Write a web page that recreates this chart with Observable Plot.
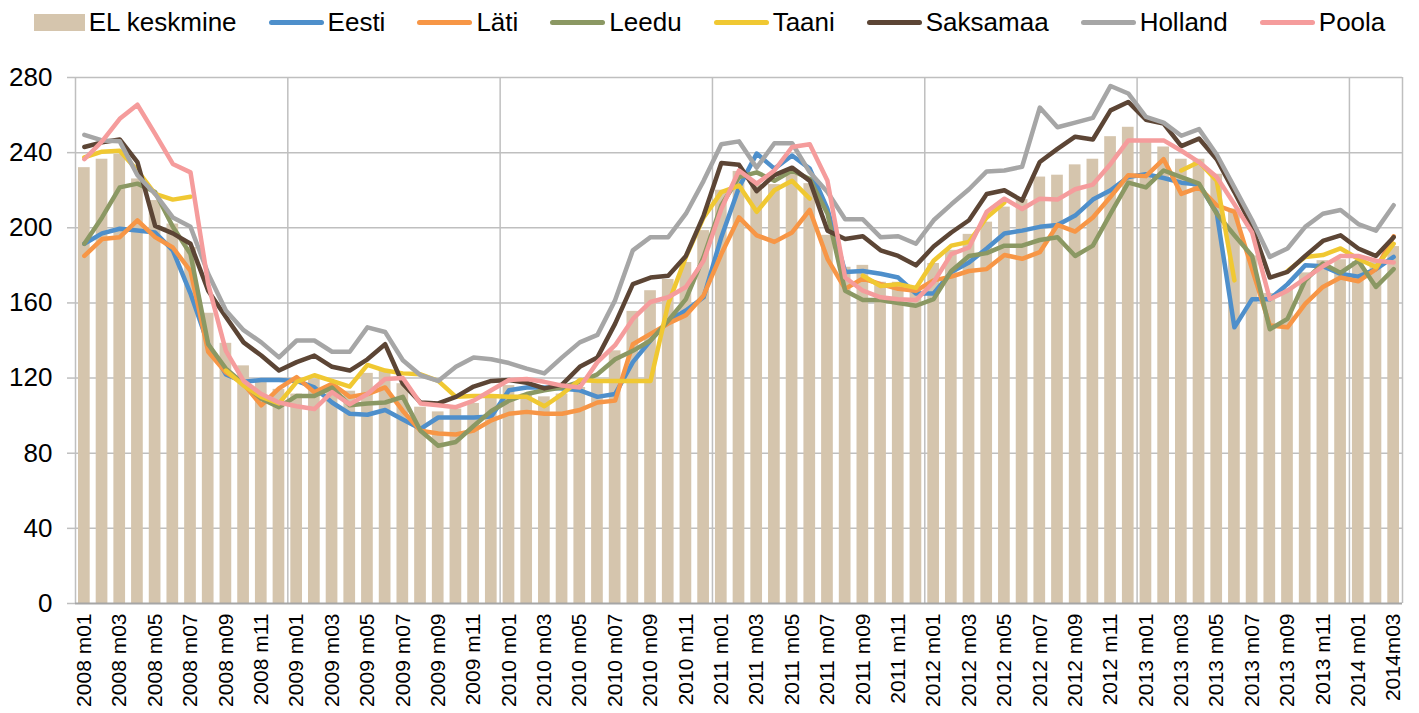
<!DOCTYPE html>
<html>
<head>
<meta charset="utf-8">
<script src="https://cdn.jsdelivr.net/npm/d3@7"></script>
<script src="https://cdn.jsdelivr.net/npm/@observablehq/plot@0.6"></script>
<style>
  html, body { margin: 0; padding: 0; background: #fff; }
  body { width: 1419px; height: 713px; overflow: hidden; font-family: "Liberation Sans", Arial, sans-serif; }
  #legend { height: 45px; display: flex; justify-content: center; align-items: center; gap: 32px; font-size: 26px; color: #000; }
  .item { display: flex; align-items: center; gap: 4px; }
  .sw-bar { width: 51px; height: 17px; }
  .sw-line { width: 55px; height: 5px; border-radius: 3px; }
</style>
</head>
<body>
<div id="legend"></div>
<div id="chart"></div>
<script>
const months = [
  "2008 m01","2008 m02","2008 m03","2008 m04","2008 m05","2008 m06","2008 m07","2008 m08","2008 m09","2008 m10","2008 m11","2008 m12",
  "2009 m01","2009 m02","2009 m03","2009 m04","2009 m05","2009 m06","2009 m07","2009 m08","2009 m09","2009 m10","2009 m11","2009 m12",
  "2010 m01","2010 m02","2010 m03","2010 m04","2010 m05","2010 m06","2010 m07","2010 m08","2010 m09","2010 m10","2010 m11","2010 m12",
  "2011 m01","2011 m02","2011 m03","2011 m04","2011 m05","2011 m06","2011 m07","2011 m08","2011 m09","2011 m10","2011 m11","2011 m12",
  "2012 m01","2012 m02","2012 m03","2012 m04","2012 m05","2012 m06","2012 m07","2012 m08","2012 m09","2012 m10","2012 m11","2012 m12",
  "2013 m01","2013 m02","2013 m03","2013 m04","2013 m05","2013 m06","2013 m07","2013 m08","2013 m09","2013 m10","2013 m11","2013 m12",
  "2014 m01","2014 m02","2014m03"
];

const elKeskmine = [
  232, 236.5, 239, 226, 214.5, 202, 189.5, 154.5, 138.5, 126.5, 118, 114,
  111.5, 119.5, 116, 113, 122.5, 124, 117, 104.5, 102, 103.5, 106.5, 111,
  116, 111.5, 110, 111.5, 115, 118.5, 134.5, 155.5, 166.5, 172.5, 181.5, 198.5,
  220, 230, 223, 223, 229.5, 223.5, 196, 179, 180, 171, 171, 168,
  181, 188, 196.5, 203, 211, 215, 227, 228, 233.5, 236.5, 248.5, 253.5,
  246.5, 243, 236.5, 236.5, 228.5, 210, 185, 165, 167.5, 176, 182.5, 183,
  182, 182, 190
];
const eesti = [
  191.5, 197, 199.5, 198.5, 197.5, 188, 165, 138, 122, 118, 119, 119,
  118.5, 115, 107, 101, 100.5, 103, 98, 93, 99, 99, 99, 99.5,
  113.5, 115, 115, 114.5, 113.5, 110, 111.5, 128.5, 140, 150.5, 156, 163,
  195, 221.5, 239.5, 231.5, 238.5, 231.5, 210, 176.5, 177, 175.5, 173.5, 165,
  165, 176.5, 181.5, 189, 197, 198.5, 200.5, 201.5, 206.5, 215, 220, 227,
  228.5, 226.5, 224, 223, 208, 147, 162, 162, 170, 180, 179.5, 175.5,
  174, 178, 184.5
];
const lati = [
  185, 194, 195, 204, 195, 189.5, 177, 134, 123, 117, 105.5, 114.5,
  120.5, 112.5, 117, 110, 111.5, 115, 102.5, 92, 90.5, 90, 92, 97.5,
  101, 102, 101, 101, 103, 107, 108, 138, 143.5, 149, 153.5, 164,
  186, 205.5, 196, 192.5, 197.5, 209.5, 183.5, 167.5, 173, 170, 167.5, 166.5,
  172, 174, 177, 178, 185.5, 183.5, 187, 201.5, 198, 205.5, 216.5, 228,
  227.5, 236.5, 218, 221.5, 212, 208.5, 178, 148, 147, 159.5, 168.5, 173.5,
  171.5, 178, 195.5
];
const leedu = [
  191.5, 205.5, 221.5, 223.5, 219, 200.5, 186, 138, 125, 117, 109, 104.5,
  110.5, 110.5, 115, 105.5, 106.5, 107, 110, 92, 84, 86, 94.5, 102.5,
  108, 111.5, 113.5, 115, 118, 122, 130, 134.5, 140, 150.5, 162, 184.5,
  212, 227, 229.5, 225, 230.5, 226, 207.5, 166.5, 161.5, 161.5, 160, 158.5,
  162, 177, 185, 186.5, 190.5, 190.5, 193.5, 195, 185, 190.5, 207.5, 224,
  221.5, 230.5, 227, 223.5, 207.5, 196, 185, 146, 151.5, 172, 181, 176,
  182.5, 168.5, 178
];
const taani = [
  237.5, 240.5, 241, 230.5, 218, 215, 216.5, null, 124, 116, 110, 106.5,
  118, 121.5, 118.5, 115.5, 127, 124, 122.5, 122, 118.5, 110, 110.5, 110.5,
  110, 110, 105, 111.5, 119, 118.5, 118.5, 118.5, 118.5, 159.5, 184.5, 205.5,
  219, 222.5, 208.5, 220, 225, 215.5, null, null, 174.5, 169, 170, 168,
  182.5, 190.5, 192.5, 205.5, 213.5, null, null, null, null, null, null, null,
  null, null, 230.5, 235, 225, 172, null, null, 177, 184.5, 185.5, 189,
  183.5, 179, 191.5
];
const saksamaa = [
  243, 245.5, 247, 235, 201, 197, 191.5, 166.5, 152.5, 139, 132, 124,
  128.5, 132, 126, 124, 130, 138, 117, 107, 106.5, 110, 115.5, 118.5,
  119, 117.5, 114.5, 116.5, 126, 131, 149, 170, 173.5, 174.5, 185, 206.5,
  234.5, 233.5, 219.5, 228, 232, 225, 198.5, 194, 195.5, 188, 185, 180,
  190, 197.5, 204, 218, 220, 214.5, 235, 242, 248.5, 247, 262.5, 267,
  257.5, 255.5, 243.5, 247.5, 236.5, 219, 200.5, 173.5, 176.5, 185, 193, 196,
  189, 185, 195
];
const holland = [
  249.5, 246.5, 246, 228, 218, 205.5, 200.5, 175.5, 156, 145.5, 139, 131,
  140, 140, 134, 134, 147, 144.5, 129.5, 121.5, 118.5, 126, 131, 130,
  128, 125, 122.5, 131, 139, 143, 161.5, 188, 195, 195, 207.5, 225,
  244.5, 246, 232, 245, 245, 229.5, 219, 204.5, 204.5, 195, 195.5, 191.5,
  204, 212.5, 220.5, 230, 230.5, 232.5, 264, 253.5, 256, 258.5, 275.5, 271.5,
  259, 256, 249, 252.5, 239, 221.5, 204, 184.5, 189, 200.5, 207.5, 209.5,
  202, 198.5, 212
];
const poola = [
  236.5, 246, 258, 265.5, 250, 234, 229.5, 170, 134.5, 118.5, 111.5, 107,
  105, 103.5, 112.5, 106, 111.5, 119.5, 120, 106.5, 105.5, 104.5, 108, 113.5,
  119, 119.5, 118, 116, 115, 128.5, 137.5, 151.5, 160.5, 163, 168.5, 182.5,
  210, 230.5, 223.5, 230.5, 243, 244.5, 225, 173.5, 166.5, 163, 162, 161.5,
  171, 186, 189.5, 208.5, 215.5, 210, 215.5, 215, 220.5, 223, 234, 246.5,
  246.5, 246.5, 241, 235, 227, 212.5, 197.5, 162, 166.5, 173, 179.5, 185,
  185, 182.5, 181.5
];

const yTicks = [0, 40, 80, 120, 160, 200, 240, 280];

const barName = "EL keskmine";
const barColor = "#d5c5ad";
const seriesNames = ["Eesti", "Läti", "Leedu", "Taani", "Saksamaa", "Holland", "Poola"];
const seriesValues = [eesti, lati, leedu, taani, saksamaa, holland, poola];
const seriesColors = ["#4e8fcb", "#f79646", "#8b9863", "#f0c832", "#5c4535", "#a6a6a6", "#f59c9c"];

// Legend
const legend = document.getElementById("legend");
{
  const it = document.createElement("div"); it.className = "item";
  const sw = document.createElement("div"); sw.className = "sw-bar"; sw.style.background = barColor;
  const tx = document.createElement("span"); tx.textContent = barName;
  it.append(sw, tx); legend.append(it);
}
seriesNames.forEach((n, k) => {
  const it = document.createElement("div"); it.className = "item";
  const sw = document.createElement("div"); sw.className = "sw-line"; sw.style.background = seriesColors[k];
  const tx = document.createElement("span"); tx.textContent = n;
  it.append(sw, tx); legend.append(it);
});

// Data tables
const idx = months.map((_, i) => i);
const bars = idx.map(i => ({i, v: elKeskmine[i]}));
const lines = seriesNames.map((n, k) => idx.map(i => ({i, v: seriesValues[k][i]})));
const labelTicks = idx.filter(i => i % 2 === 0);
const boundaries = [-0.5, ...idx.filter(i => months[i].endsWith("m01") && i > 0).map(i => i - 0.5), months.length - 0.5];

const chart = Plot.plot({
  width: 1419,
  height: 668,
  marginTop: 32,
  marginBottom: 110,
  marginLeft: 75,
  marginRight: 17,
  style: {fontFamily: "'Liberation Sans', Arial, sans-serif", fontSize: "26px", color: "#000", background: "#fff"},
  x: {type: "linear", domain: [-0.5, months.length - 0.5]},
  y: {domain: [0, 280]},
  marks: [
    Plot.gridY({ticks: yTicks.filter(t => t > 0), stroke: "#bfbfbf", strokeOpacity: 1, strokeWidth: 1.5}),
    Plot.gridX({ticks: boundaries, stroke: "#bfbfbf", strokeOpacity: 1, strokeWidth: 1.5}),
    Plot.rectY(bars, {x1: d => d.i - 0.5, x2: d => d.i + 0.5, y: "v", fill: barColor, insetLeft: 3, insetRight: 3}),
    ...lines.map((ln, k) => Plot.line(ln, {x: "i", y: "v", stroke: seriesColors[k], strokeWidth: 4.5, strokeLinejoin: "round", strokeLinecap: "round"})),
    Plot.ruleY([0], {stroke: "#a6a6a6", strokeWidth: 2}),
    Plot.axisY({ticks: yTicks, tickSize: 8, tickPadding: 15, stroke: "#bfbfbf", strokeWidth: 1.5, fill: "#000", fontSize: 26, label: null}),
    Plot.axisX({ticks: labelTicks, tickFormat: i => months[i], tickRotate: -90, tickSize: 0, tickPadding: 10, fill: "#000", fontSize: 21, label: null})
  ]
});
document.getElementById("chart").append(chart);
</script>
</body>
</html>
